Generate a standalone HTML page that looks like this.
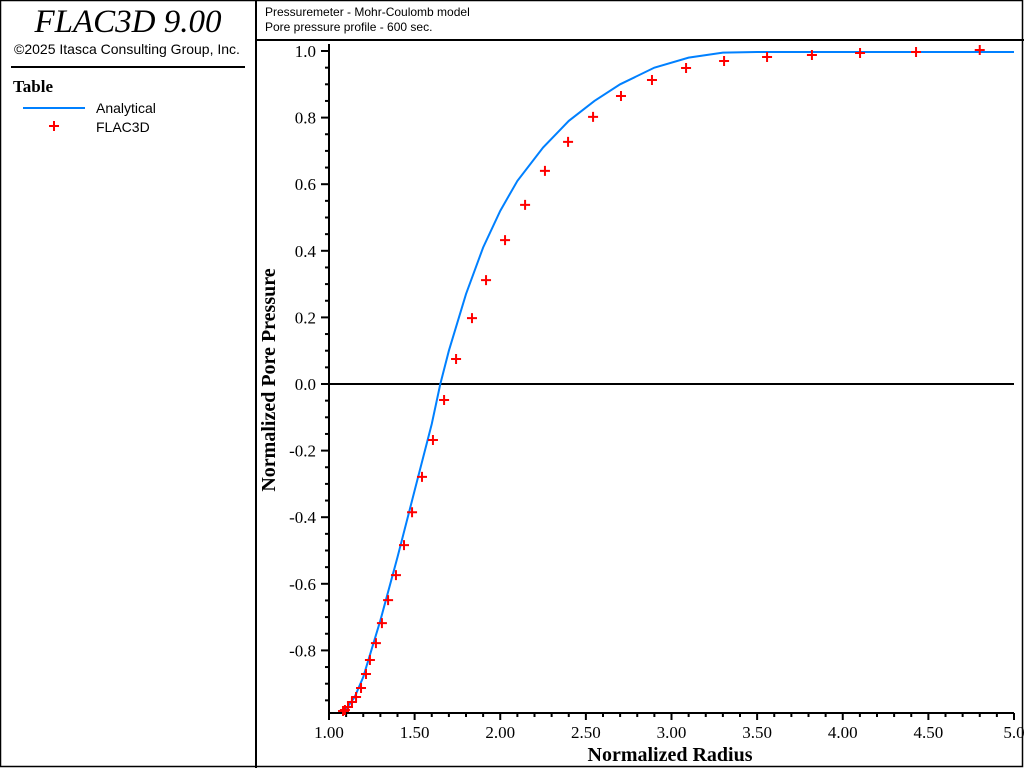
<!DOCTYPE html>
<html><head><meta charset="utf-8"><style>
body{margin:0;background:#fff;font-family:"Liberation Sans",sans-serif}
svg text{font-family:"Liberation Sans",sans-serif}
</style></head><body>
<svg id="chart" width="1024" height="768" viewBox="0 0 1024 768" xmlns="http://www.w3.org/2000/svg">
<rect x="0.5" y="0.5" width="1022" height="766" fill="#fff" stroke="#000" stroke-width="1.5"/>
<line x1="256" y1="0" x2="256" y2="768" stroke="#000" stroke-width="2"/>
<line x1="256" y1="40" x2="1024" y2="40" stroke="#000" stroke-width="2"/>
<text x="128" y="32" text-anchor="middle" font-size="33" font-style="italic" style="font-family:'Liberation Serif',serif">FLAC3D 9.00</text>
<text x="127" y="54" text-anchor="middle" font-size="14">©2025 Itasca Consulting Group, Inc.</text>
<line x1="11" y1="67" x2="245" y2="67" stroke="#000" stroke-width="2"/>
<text x="13" y="92" font-size="17" font-weight="bold" style="font-family:'Liberation Serif',serif">Table</text>
<g>
<line x1="23" y1="108" x2="85" y2="108" stroke="#0080ff" stroke-width="2"/>
<text x="96" y="113" font-size="14">Analytical</text></g>
<g>
<path d="M49 126h10M54 121v10" stroke="#f00" stroke-width="2"/>
<text x="96" y="132" font-size="14">FLAC3D</text></g>
<text x="265" y="16" font-size="12">Pressuremeter - Mohr-Coulomb model</text>
<text x="265" y="31" font-size="12">Pore pressure profile - 600 sec.</text>
<g id="plot"></g>
<text x="670" y="761" text-anchor="middle" font-size="20" font-weight="bold" style="font-family:'Liberation Serif',serif">Normalized Radius</text>
<text transform="translate(275,380) rotate(-90)" text-anchor="middle" font-size="20" font-weight="bold" style="font-family:'Liberation Serif',serif">Normalized Pore Pressure</text>
</svg>
<script>
const xTickLabels=["1.00","1.50","2.00","2.50","3.00","3.50","4.00","4.50","5.0"];
const yTickLabels=["-0.8","-0.6","-0.4","-0.2","0.0","0.2","0.4","0.6","0.8","1.0"];
const analyticX=[1.08,1.15,1.20,1.30,1.40,1.50,1.60,1.65,1.70,1.80,1.90,2.00,2.10,2.25,2.40,2.55,2.70,2.90,3.10,3.30,3.50,5.0];
const analyticY=[-0.99,-0.94,-0.88,-0.71,-0.52,-0.32,-0.12,0.0,0.10,0.27,0.41,0.52,0.61,0.71,0.79,0.85,0.90,0.95,0.98,0.995,0.997,0.997];
const flacX=[1.082,1.093,1.111,1.134,1.158,1.187,1.216,1.239,1.274,1.309,1.345,1.391,1.438,1.485,1.543,1.607,1.672,1.742,1.835,1.917,2.028,2.145,2.261,2.396,2.542,2.705,2.886,3.085,3.307,3.558,3.820,4.101,4.428,4.80];
const flacY=[-0.982,-0.979,-0.970,-0.955,-0.940,-0.913,-0.871,-0.829,-0.778,-0.718,-0.649,-0.574,-0.484,-0.385,-0.279,-0.168,-0.048,0.075,0.198,0.312,0.432,0.538,0.640,0.727,0.802,0.865,0.913,0.949,0.970,0.982,0.988,0.994,0.997,1.003];
const NS="http://www.w3.org/2000/svg";
const X0=329,X1=1014,Y0=713;
const xs=v=>X0+(v-1)*(X1-X0)/4;
const ys=v=>384-v*333;
const g=document.getElementById('plot');
function mk(t,a){const e=document.createElementNS(NS,t);for(const k in a)e.setAttribute(k,a[k]);g.appendChild(e);return e;}
// zero line
let z=mk('line',{x1:X0,x2:X1,y1:ys(0),y2:ys(0),stroke:'#000','stroke-width':2});


// axes
let ax=mk('path',{d:`M${X0} 44V${Y0}H${X1}`,fill:'none',stroke:'#000','stroke-width':2});


// x ticks
for(let i=0;i<=40;i++){const v=1+i*0.1;const x=xs(v);const maj=i%5===0;
 let t=mk('line',{x1:x,x2:x,y1:Y0,y2:Y0+(maj?7:4),stroke:'#000','stroke-width':2});
 
 }
xTickLabels.forEach((s,i)=>{let t=mk('text',{x:xs(1+i*0.5),y:738,'text-anchor':'middle','font-size':17,style:"font-family:'Liberation Serif',serif"});t.textContent=s;
 
 });
// y ticks
for(let i=-19;i<=20;i++){const v=i*0.05;const y=ys(v);const maj=i%4===0;
 let t=mk('line',{x1:X0-(maj?8:4),x2:X0,y1:y,y2:y,stroke:'#000','stroke-width':2});
 
 }
yTickLabels.forEach((s,i)=>{let t=mk('text',{x:X0-13,y:ys(-0.8+i*0.2)+6,'text-anchor':'end','font-size':17,style:"font-family:'Liberation Serif',serif"});t.textContent=s;
 
 });
// analytical line
let l=mk('polyline',{points:analyticX.map((v,i)=>xs(v)+','+ys(analyticY[i])).join(' '),fill:'none',stroke:'#0080ff','stroke-width':2});


// flac points
flacX.forEach((v,i)=>{const x=xs(v),y=ys(flacY[i]);
 let p=mk('path',{d:`M${x-5} ${y}h10M${x} ${y-5}v10`,stroke:'#f00','stroke-width':2});
 
 });
</script>
</body></html>
